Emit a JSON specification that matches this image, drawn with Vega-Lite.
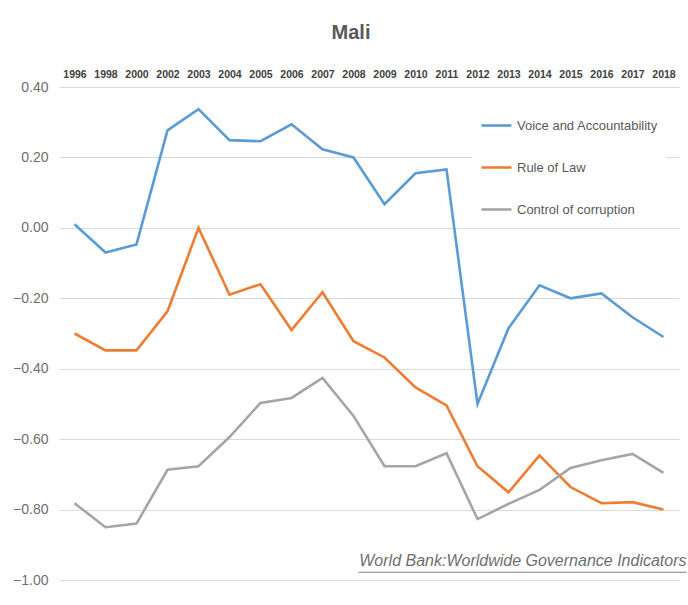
{
  "$schema": "https://vega.github.io/schema/vega-lite/v6.json",
  "autosize": "none",
  "width": 620,
  "height": 493,
  "padding": {"left": 59, "top": 87, "right": 9, "bottom": 25},
  "background": "white",
  "config": {
    "view": {"stroke": null},
    "font": "Liberation Sans"
  },
  "title": {
    "text": "Mali",
    "fontSize": 20,
    "fontWeight": "bold",
    "color": "#595959",
    "anchor": "middle",
    "dx": -18,
    "offset": 26
  },
  "datasets": {
    "wgi": [
      {"year": "1996", "series": "Voice and Accountability", "value": 0.01},
      {"year": "1998", "series": "Voice and Accountability", "value": -0.07},
      {"year": "2000", "series": "Voice and Accountability", "value": -0.047},
      {"year": "2002", "series": "Voice and Accountability", "value": 0.277},
      {"year": "2003", "series": "Voice and Accountability", "value": 0.337},
      {"year": "2004", "series": "Voice and Accountability", "value": 0.249},
      {"year": "2005", "series": "Voice and Accountability", "value": 0.246},
      {"year": "2006", "series": "Voice and Accountability", "value": 0.294},
      {"year": "2007", "series": "Voice and Accountability", "value": 0.223},
      {"year": "2008", "series": "Voice and Accountability", "value": 0.2},
      {"year": "2009", "series": "Voice and Accountability", "value": 0.067},
      {"year": "2010", "series": "Voice and Accountability", "value": 0.155},
      {"year": "2011", "series": "Voice and Accountability", "value": 0.166},
      {"year": "2012", "series": "Voice and Accountability", "value": -0.5},
      {"year": "2013", "series": "Voice and Accountability", "value": -0.285},
      {"year": "2014", "series": "Voice and Accountability", "value": -0.163},
      {"year": "2015", "series": "Voice and Accountability", "value": -0.2},
      {"year": "2016", "series": "Voice and Accountability", "value": -0.186},
      {"year": "2017", "series": "Voice and Accountability", "value": -0.254},
      {"year": "2018", "series": "Voice and Accountability", "value": -0.31},
      {"year": "1996", "series": "Rule of Law", "value": -0.3},
      {"year": "1998", "series": "Rule of Law", "value": -0.348},
      {"year": "2000", "series": "Rule of Law", "value": -0.348},
      {"year": "2002", "series": "Rule of Law", "value": -0.237},
      {"year": "2003", "series": "Rule of Law", "value": 0.0},
      {"year": "2004", "series": "Rule of Law", "value": -0.19},
      {"year": "2005", "series": "Rule of Law", "value": -0.16},
      {"year": "2006", "series": "Rule of Law", "value": -0.29},
      {"year": "2007", "series": "Rule of Law", "value": -0.183},
      {"year": "2008", "series": "Rule of Law", "value": -0.322},
      {"year": "2009", "series": "Rule of Law", "value": -0.368},
      {"year": "2010", "series": "Rule of Law", "value": -0.453},
      {"year": "2011", "series": "Rule of Law", "value": -0.504},
      {"year": "2012", "series": "Rule of Law", "value": -0.677},
      {"year": "2013", "series": "Rule of Law", "value": -0.751},
      {"year": "2014", "series": "Rule of Law", "value": -0.646},
      {"year": "2015", "series": "Rule of Law", "value": -0.736},
      {"year": "2016", "series": "Rule of Law", "value": -0.782},
      {"year": "2017", "series": "Rule of Law", "value": -0.779},
      {"year": "2018", "series": "Rule of Law", "value": -0.8},
      {"year": "1996", "series": "Control of corruption", "value": -0.782},
      {"year": "1998", "series": "Control of corruption", "value": -0.85},
      {"year": "2000", "series": "Control of corruption", "value": -0.84},
      {"year": "2002", "series": "Control of corruption", "value": -0.687},
      {"year": "2003", "series": "Control of corruption", "value": -0.677},
      {"year": "2004", "series": "Control of corruption", "value": -0.594},
      {"year": "2005", "series": "Control of corruption", "value": -0.497},
      {"year": "2006", "series": "Control of corruption", "value": -0.483},
      {"year": "2007", "series": "Control of corruption", "value": -0.426},
      {"year": "2008", "series": "Control of corruption", "value": -0.534},
      {"year": "2009", "series": "Control of corruption", "value": -0.677},
      {"year": "2010", "series": "Control of corruption", "value": -0.677},
      {"year": "2011", "series": "Control of corruption", "value": -0.64},
      {"year": "2012", "series": "Control of corruption", "value": -0.827},
      {"year": "2013", "series": "Control of corruption", "value": -0.784},
      {"year": "2014", "series": "Control of corruption", "value": -0.744},
      {"year": "2015", "series": "Control of corruption", "value": -0.682},
      {"year": "2016", "series": "Control of corruption", "value": -0.66},
      {"year": "2017", "series": "Control of corruption", "value": -0.642},
      {"year": "2018", "series": "Control of corruption", "value": -0.696}
    ],
    "source": [
      {"year": "2018", "yfrom": "2008", "value": -0.947, "uy": -0.978, "label": "World Bank:Worldwide Governance  Indicators"}
    ]
  },
  "layer": [
    {
      "data": {"name": "wgi"},
      "mark": {"type": "line", "strokeWidth": 2.6},
      "encoding": {
        "x": {
          "field": "year",
          "type": "ordinal",
          "sort": null,
          "scale": {"type": "point", "padding": 0.5},
          "axis": {
            "orient": "top",
            "title": null,
            "labelAngle": 0,
            "labelFontSize": 10.5,
            "labelFontWeight": "bold",
            "labelColor": "#404040",
            "labelFont": "Liberation Sans",
            "labelPadding": 8,
            "ticks": false,
            "domain": false,
            "grid": false
          }
        },
        "y": {
          "field": "value",
          "type": "quantitative",
          "scale": {"domain": [-1.0, 0.4], "nice": false, "zero": false},
          "axis": {
            "title": null,
            "values": [-1.0, -0.8, -0.6, -0.4, -0.2, 0.0, 0.2, 0.4],
            "format": ".2f",
            "labelFontSize": 14,
            "labelColor": "#6e6e6e",
            "labelPadding": 11,
            "ticks": false,
            "domain": false,
            "grid": true,
            "gridColor": "#d9d9d9",
            "gridWidth": 1
          }
        },
        "color": {
          "field": "series",
          "type": "nominal",
          "scale": {
            "domain": ["Voice and Accountability", "Rule of Law", "Control of corruption"],
            "range": ["#5b9bd5", "#ed7d31", "#a5a5a5"]
          },
          "legend": {
            "orient": "none",
            "legendX": 413,
            "legendY": 14,
            "title": null,
            "symbolType": "stroke",
            "symbolSize": 900,
            "symbolStrokeWidth": 2.6,
            "labelFontSize": 13,
            "labelColor": "#595959",
            "labelOffset": 4,
            "rowPadding": 18,
            "fillColor": "white",
            "padding": 8
          }
        }
      }
    },
    {
      "data": {"name": "source"},
      "mark": {"type": "text", "align": "right", "baseline": "middle", "fontStyle": "italic", "fontSize": 16, "color": "#6e6e6e", "dx": 23},
      "encoding": {
        "x": {"field": "year", "type": "ordinal", "sort": null},
        "y": {"field": "value", "type": "quantitative"},
        "text": {"field": "label"}
      }
    },
    {
      "data": {"name": "source"},
      "mark": {"type": "rule", "color": "#808080", "strokeWidth": 1.2, "xOffset": 5, "x2Offset": 23},
      "encoding": {
        "x": {"field": "yfrom", "type": "ordinal", "sort": null},
        "x2": {"field": "year"},
        "y": {"field": "uy", "type": "quantitative"}
      }
    }
  ]
}
